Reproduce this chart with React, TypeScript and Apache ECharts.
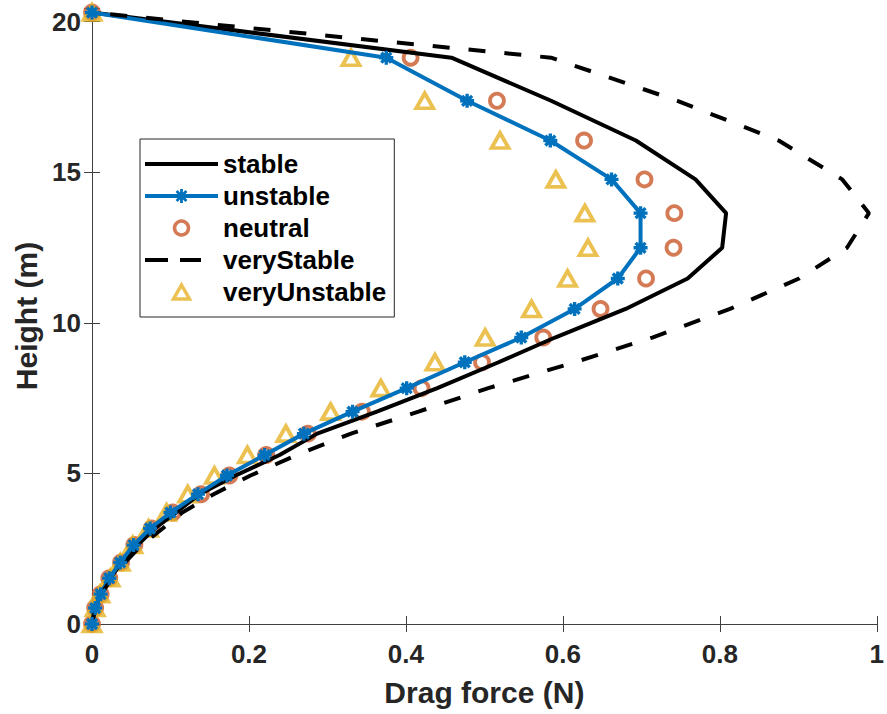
import React, { useEffect, useRef } from "react";
import * as echarts from "echarts";

// Heights of the computational levels (m), bottom to top
const heights = [
  0, 0.53, 0.99, 1.52, 2.04, 2.62, 3.17, 3.7, 4.31, 4.93, 5.61, 6.32, 7.05,
  7.83, 8.69, 9.51, 10.46, 11.47, 12.49, 13.64, 14.76, 16.05, 17.37, 18.8, 20.3,
];

// Drag force (N) at each level for each stability class
const stable = [
  0, 0.004, 0.011, 0.023, 0.038, 0.058, 0.08, 0.107, 0.137, 0.183, 0.239, 0.287,
  0.363, 0.44, 0.518, 0.59, 0.68, 0.759, 0.803, 0.808, 0.769, 0.693, 0.585, 0.458, 0,
];
const unstable = [
  0, 0.004, 0.011, 0.022, 0.036, 0.053, 0.074, 0.1, 0.135, 0.172, 0.22, 0.27,
  0.332, 0.401, 0.475, 0.547, 0.615, 0.67, 0.699, 0.699, 0.662, 0.584, 0.478, 0.375, 0,
];
const neutral = [
  0, 0.004, 0.011, 0.022, 0.037, 0.054, 0.076, 0.103, 0.139, 0.175, 0.222, 0.275,
  0.344, 0.42, 0.497, 0.575, 0.648, 0.706, 0.741, 0.742, 0.704, 0.627, 0.516, 0.406, 0,
];
const veryStable = [
  0, 0.004, 0.012, 0.025, 0.042, 0.063, 0.09, 0.115, 0.155, 0.202, 0.261, 0.33,
  0.416, 0.505, 0.615, 0.714, 0.813, 0.901, 0.962, 0.99, 0.956, 0.875, 0.746, 0.585, 0,
];
const veryUnstable = [
  0, 0.004, 0.01, 0.023, 0.036, 0.052, 0.072, 0.095, 0.122, 0.156, 0.198, 0.247,
  0.304, 0.368, 0.437, 0.501, 0.56, 0.606, 0.632, 0.628, 0.591, 0.52, 0.424, 0.33, 0,
];

const yTicks = [0, 5, 10, 15, 20];

const FONT = '"Liberation Sans", Arial, Helvetica, sans-serif';
const AXIS_COLOR = "#404040";
const TEXT_COLOR = "#262626";
const BLUE = "#0072BD";
const ORANGE = "#C95A2A";
const YELLOW = "#E6B125";

// asterisk marker: a plus and a cross of thick bars
const STAR =
  "path://M0,7.6L20,7.6L20,12.4L0,12.4Z M7.6,0L12.4,0L12.4,20L7.6,20Z " +
  "M4.63,1.23L18.77,15.37L15.37,18.77L1.23,4.63Z M15.37,1.23L18.77,4.63L4.63,18.77L1.23,15.37Z";

// legend samples (73 x 14 box)
const LEG_SOLID = "path://M0,5L73,5L73,9L0,9Z";
const LEG_STAR_LINE =
  "path://M0,5L73,5L73,9L0,9Z M35.1,0L37.9,0L37.9,14L35.1,14Z " +
  "M32.54,1.06L42.44,10.96L40.46,12.94L30.56,3.04Z M40.46,1.06L42.44,3.04L32.54,12.94L30.56,10.96Z";
const LEG_DASH =
  "path://M0,5L23,5L23,9L0,9Z M35,5L56,5L56,9L35,9Z M72.95,6.9L73,6.9L73,7.1L72.95,7.1Z";
const LEG_TRIANGLE = "path://M8,0L16,14L0,14Z";

const toPairs = (xs: number[]) => xs.map((x, i) => [x, heights[i]]);

export default function App() {
  const ref = useRef<HTMLDivElement>(null);

  useEffect(() => {
    if (!ref.current) return;
    const chart = echarts.init(ref.current, undefined, { renderer: "svg" });

    const axisLine = { show: true, lineStyle: { color: AXIS_COLOR, width: 1 } };
    const tick = { show: true, inside: true, length: 8, lineStyle: { color: AXIS_COLOR, width: 1 } };
    const tickLabel = {
      fontSize: 26,
      fontWeight: "bold" as const,
      color: TEXT_COLOR,
      fontFamily: FONT,
    };
    const nameStyle = {
      fontSize: 30,
      fontWeight: "bold" as const,
      color: TEXT_COLOR,
      fontFamily: FONT,
    };

    chart.setOption({
      animation: false,
      backgroundColor: "#fff",
      grid: { left: 92, right: 7, top: 8, bottom: 90 },
      xAxis: [
        {
          type: "value",
          min: 0,
          max: 1,
          interval: 0.2,
          position: "bottom",
          name: "Drag force (N)",
          nameLocation: "middle",
          nameGap: 53,
          nameTextStyle: nameStyle,
          axisLine,
          axisTick: tick,
          axisLabel: { ...tickLabel, margin: 17 },
          splitLine: { show: false },
        },
        {
          type: "value",
          min: 0,
          max: 1,
          interval: 0.2,
          position: "top",
          axisLine,
          axisTick: tick,
          axisLabel: { show: false },
          splitLine: { show: false },
        },
      ],
      yAxis: [
        {
          type: "value",
          min: 0,
          max: 20.45,
          interval: 5,
          position: "left",
          name: "Height (m)",
          nameLocation: "middle",
          nameGap: 47,
          nameTextStyle: nameStyle,
          axisLine,
          axisTick: tick,
          axisLabel: {
            ...tickLabel,
            margin: 11,
            formatter: (v: number) => (yTicks.includes(v) ? String(v) : ""),
          },
          splitLine: { show: false },
        },
        {
          type: "value",
          min: 0,
          max: 20.45,
          interval: 5,
          position: "right",
          axisLine,
          axisTick: tick,
          axisLabel: { show: false },
          splitLine: { show: false },
        },
      ],
      legend: {
        data: [
          { name: "stable", icon: LEG_SOLID },
          { name: "unstable", icon: LEG_STAR_LINE },
          { name: "neutral", icon: "circle", itemStyle: { borderWidth: 3.5 } },
          { name: "veryStable", icon: LEG_DASH },
          { name: "veryUnstable", icon: LEG_TRIANGLE, itemStyle: { borderWidth: 3.5 } },
        ],
        orient: "vertical",
        left: 140,
        top: 139,
        padding: [12, 8, 12, 5],
        itemWidth: 73,
        itemHeight: 14,
        itemGap: 6,
        backgroundColor: "#fff",
        borderColor: "#262626",
        borderWidth: 1,
        borderRadius: 0,
        textStyle: {
          fontSize: 26,
          fontWeight: "bold",
          color: "#000",
          fontFamily: FONT,
          lineHeight: 25,
        },
      },
      series: [
        {
          name: "stable",
          type: "line",
          data: toPairs(stable),
          symbol: "none",
          lineStyle: { color: "#000", width: 4 },
          itemStyle: { color: "#000" },
        },
        {
          name: "unstable",
          type: "line",
          data: toPairs(unstable),
          symbol: STAR,
          symbolSize: 14,
          lineStyle: { color: BLUE, width: 4 },
          itemStyle: { color: BLUE },
        },
        {
          name: "neutral",
          type: "scatter",
          data: toPairs(neutral),
          symbol: "circle",
          symbolSize: 14,
          itemStyle: { color: "rgba(0,0,0,0)", borderColor: ORANGE, borderWidth: 3.8 },
        },
        {
          name: "veryStable",
          type: "line",
          data: toPairs(veryStable),
          symbol: "none",
          lineStyle: { color: "#000", width: 4, type: [17, 19] },
          itemStyle: { color: "#000" },
        },
        {
          name: "veryUnstable",
          type: "scatter",
          data: toPairs(veryUnstable),
          symbol: "triangle",
          symbolSize: [17, 15],
          itemStyle: { color: "rgba(0,0,0,0)", borderColor: YELLOW, borderWidth: 3.8 },
        },
      ],
    });

    return () => chart.dispose();
  }, []);

  return (
    <div
      ref={ref}
      style={{ position: "fixed", left: 0, top: 0, width: 887, height: 714 }}
    />
  );
}
